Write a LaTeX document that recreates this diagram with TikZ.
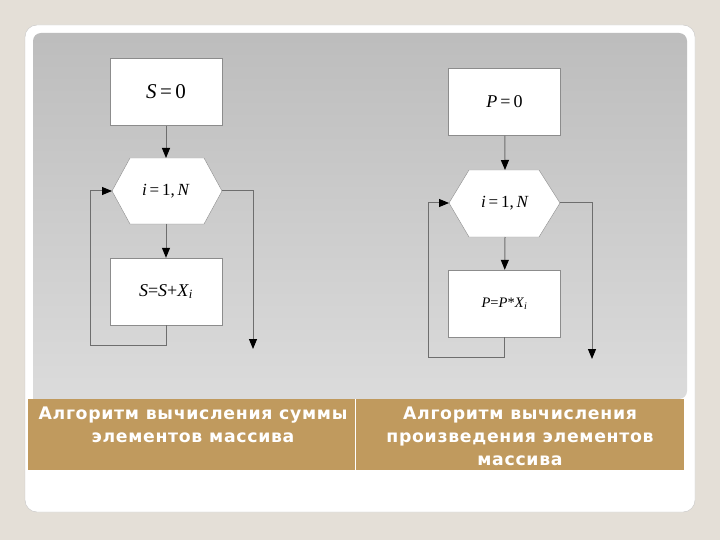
\documentclass[tikz,border=0pt]{standalone}
\usepackage{fontspec}
\setmainfont{Liberation Serif}
\newfontfamily\capfont[LetterSpace=4]{DejaVu Sans}
\usetikzlibrary{arrows.meta}
\definecolor{pagebg}{HTML}{E4DFD7}
\definecolor{bandtan}{HTML}{C09A5E}
\definecolor{linegray}{HTML}{6E6E6E}
\definecolor{edgegray}{HTML}{8C8C8C}
\tikzset{
  blockbox/.style={draw=edgegray,fill=white,minimum width=112pt,minimum height=67pt,inner sep=0pt},
  hexshape/.style={draw=edgegray,fill=white},
  flow/.style={linegray,line width=1pt,-{Triangle[length=10pt,width=8pt,color=black]}},
  caption/.style={text=white,font=\capfont\bfseries\fontsize{17.3}{23}\selectfont,align=center,inner sep=0pt}
}
\begin{document}
\begin{tikzpicture}[x=1pt,y=-1pt]
\useasboundingbox (0,0) rectangle (720,540);
\fill[pagebg] (0,0) rectangle (720,540);
% card and panel
\draw[gray!45,fill=white,rounded corners=12pt] (25,25) rectangle (695,512);
\shade[top color=gray!52,bottom color=gray!28,rounded corners=8pt] (33,399) -- (33,33) -- (687,33) -- (687,399) [sharp corners] -- cycle;
\fill[bandtan] (28,399) rectangle (684,470);
\draw[white,line width=1pt] (355,399) -- (355,470);
\node[caption] (capsum) at (193,425) {Алгоритм вычисления суммы\\элементов массива};
\node[caption] (capprod) at (520,436) {Алгоритм вычисления\\произведения элементов\\массива};

% left chart: sum
\node[blockbox] (sinit) at (166,92) {\fontsize{21}{24}\selectfont\textit{S}\,=\,0};
\draw[hexshape] (112,191) coordinate (shexw) -- (130,158) -- (166,158) coordinate (shexn) -- (204,158) -- (222,191) coordinate (shexe)
  -- (204,224) -- (166,224) coordinate (shexs) -- (130,224) -- cycle;
\node (shex) at (166,191) {\fontsize{17}{20}\selectfont\textit{i}\,=\,1,\,\textit{N}};
\node[blockbox] (sstep) at (166,291.5) {\fontsize{18}{20}\selectfont\textit{S}=\textit{S}+\textit{X}\textsubscript{\textit{i}}};
\coordinate (sexit) at (253,349);
\draw[flow] (sinit) -- (shexn);
\draw[flow] (shexs) -- (sstep);
\draw[flow] (sstep.south) -- ++(0,20) -| (90,191) -- (shexw);
\draw[flow] (shexe) -| (sexit);

% right chart: product
\node[blockbox] (pinit) at (504.5,102) {\fontsize{18}{22}\selectfont\textit{P}\,=\,0};
\draw[hexshape] (449,203) coordinate (phexw) -- (469,170) -- (505,170) coordinate (phexn) -- (539,170) -- (560,203) coordinate (phexe)
  -- (539,237) -- (505,237) coordinate (phexs) -- (469,237) -- cycle;
\node (phex) at (505,203) {\fontsize{17}{20}\selectfont\textit{i}\,=\,1,\,\textit{N}};
\node[blockbox] (pstep) at (504.5,303.5) {\fontsize{14.5}{18}\selectfont\textit{P}=\textit{P}*\textit{X}\textsubscript{\textit{i}}};
\coordinate (pexit) at (592,359);
\draw[flow] (pinit) -- (phexn);
\draw[flow] (phexs) -- (pstep);
\draw[flow] (pstep.south) -- ++(0,20) -| (428,203) -- (phexw);
\draw[flow] (phexe) -| (pexit);
\end{tikzpicture}
\end{document}
